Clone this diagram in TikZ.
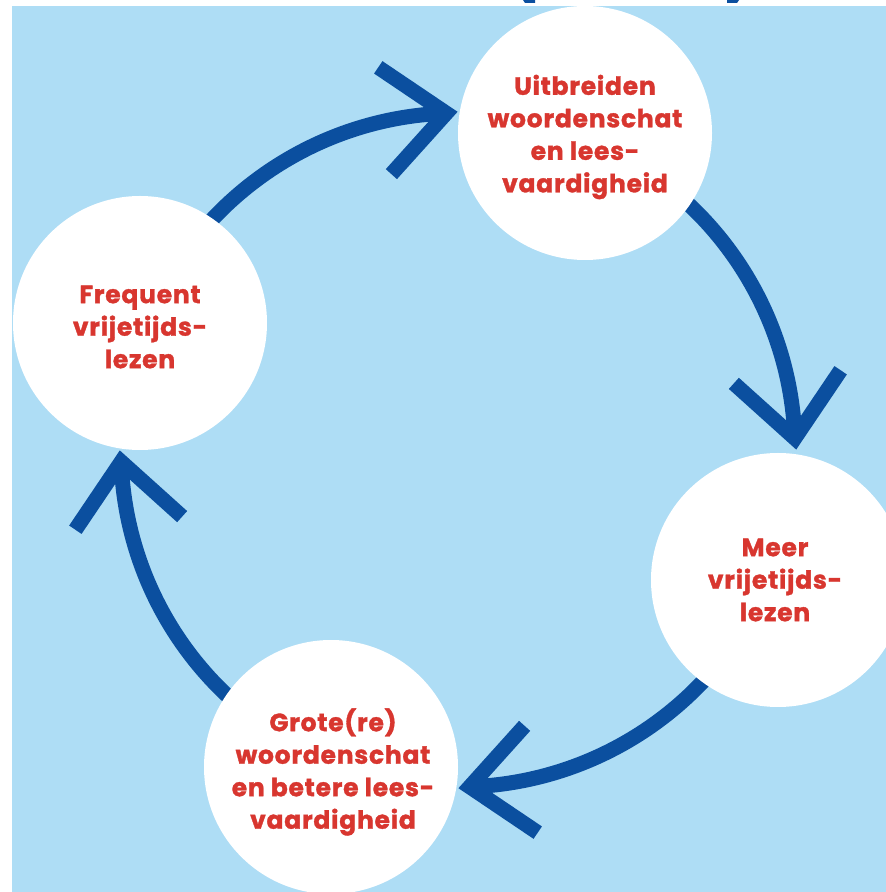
\documentclass[tikz,border=0pt]{standalone}
\usepackage{fontspec}
\usetikzlibrary{calc}
\newfontfamily\bubblefont{Poppins}[LetterSpace=3, BoldFeatures={FakeBold=1.3}]
\definecolor{skyblue}{HTML}{AEDDF5}
\definecolor{arrowblue}{HTML}{0B4F9F}
\definecolor{textred}{HTML}{D8362F}
\tikzset{
  bubble/.style={circle, fill=white, minimum size=254pt, inner sep=0pt},
  bubbletext/.style={text=textred, align=center, inner sep=0pt,
    font=\bubblefont\bfseries\fontsize{25}{32.5}\selectfont},
  flow/.style={draw=arrowblue, line width=15pt},
  chevron/.style={draw=arrowblue, line width=15pt, line join=miter, miter limit=10},
  topmark/.style={fill=arrowblue}
}
\begin{document}
\begin{tikzpicture}[x=1pt,y=1pt]
\useasboundingbox (0,0) rectangle (886,892);
\fill[white] (0,0) rectangle (886,892);
\fill[topmark] (523,892) -- (525,889) -- (535,889) -- (535,892) -- cycle;
\fill[topmark] (727,892) -- (727,889) -- (737,889) -- (739,892) -- cycle;
\begin{scope}
\clip (12,0) rectangle (886,886);
\fill[skyblue] (12,0) rectangle (886,886);
\coordinate (C) at (458,442);
% connectors
\coordinate (a1s) at ($(C)+(140:337)$);
\coordinate (a2s) at ($(C)+(50:337)$);
\coordinate (a3s) at ($(C)+(-40:337)$);
\coordinate (a4s) at ($(C)+(-128:337)$);
\draw[flow] (a1s) arc[start angle=140, end angle=92, radius=337pt] coordinate (a1e);
\draw[chevron] ($(a1e)+(146:82)$) -- (a1e) -- ($(a1e)+(228:82)$);
\draw[flow] (a2s) arc[start angle=50, end angle=2, radius=337pt] coordinate (a2e);
\draw[chevron] ($(a2e)+(56:82)$) -- (a2e) -- ($(a2e)+(138:82)$);
\draw[flow] (a3s) arc[start angle=-40, end angle=-88, radius=337pt] coordinate (a3e);
\draw[chevron] ($(a3e)+(48:82)$) -- (a3e) -- ($(a3e)+(-34:82)$);
\draw[flow] (a4s) arc[start angle=-128, end angle=-178, radius=337pt] coordinate (a4e);
\draw[chevron] ($(a4e)+(236:82)$) -- (a4e) -- ($(a4e)+(318:82)$);
% nodes
\node[bubble] (top) at (585,759) {};
\node[bubble] (right) at (778,312) {};
\node[bubble] (bottom) at (331,125) {};
\node[bubble] (left) at (140,569) {};
\node[bubbletext] (toptext) at ($(top)+(0,-4)$) {Uitbreiden\\woordenschat\\en lees-\\vaardigheid};
\node[bubbletext] (righttext) at ($(right)+(-3,0)$) {Meer\\vrijetijds-\\lezen};
\node[bubbletext] (bottomtext) at ($(bottom)+(2,-5)$) {Grote(re)\\woordenschat\\en betere lees-\\vaardigheid};
\node[bubbletext] (lefttext) at ($(left)+(0,-4)$) {Frequent\\vrijetijds-\\lezen};
\end{scope}
\end{tikzpicture}
\end{document}
